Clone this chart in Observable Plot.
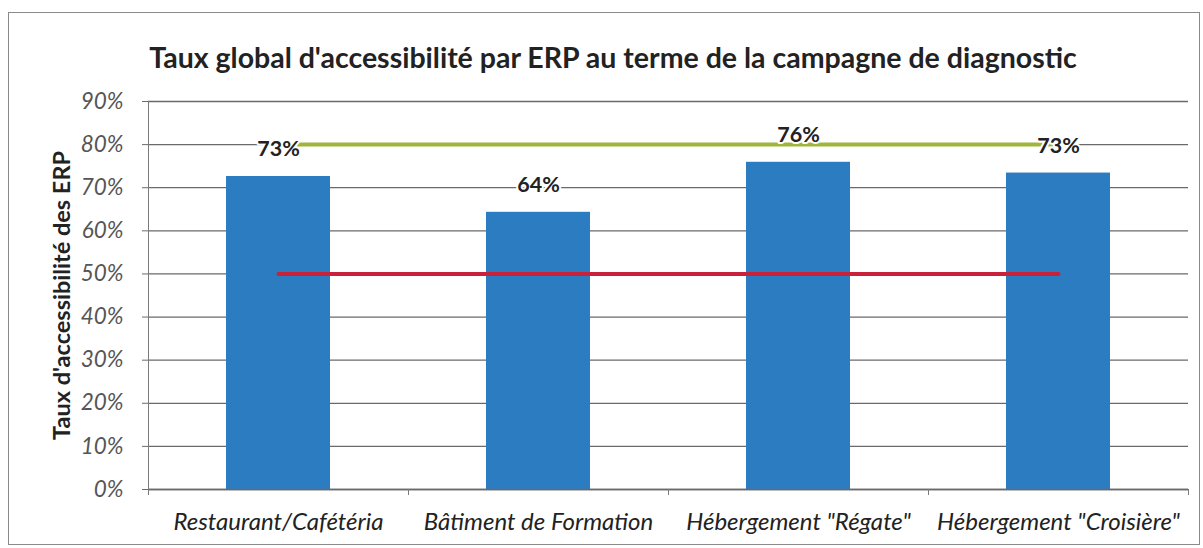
<!DOCTYPE html>
<html>
<head>
<meta charset="utf-8">
<script src="https://cdn.jsdelivr.net/npm/d3@7"></script>
<script src="https://cdn.jsdelivr.net/npm/@observablehq/plot@0.6"></script>
<style>
  body { margin: 0; background: #fff; width: 1203px; height: 548px; overflow: hidden; position: relative; font-family: Lato, "Open Sans", sans-serif; }
  #frame { position: absolute; left: 8px; top: 12px; width: 1190px; height: 531px; border: 1px solid #8a8a8a; }
  #title { position: absolute; left: 0; width: 1226px; top: 40px; line-height: 34px; text-align: center; font-weight: bold; font-size: 28.5px; color: #222; }
  #chart { position: absolute; left: 0; top: 0; }
</style>
</head>
<body>
<div id="frame"></div>
<div id="title">Taux global d'accessibilité par ERP au terme de la campagne de diagnostic</div>
<div id="chart"></div>
<script>
const categories = ["Restaurant/Cafétéria", "Bâtiment de Formation", "Hébergement \"Régate\"", "Hébergement \"Croisière\""];
const values = [72.6, 64.3, 75.9, 73.4];
const targetHigh = 80;
const targetLow = 50;
const yTicks = [0, 10, 20, 30, 40, 50, 60, 70, 80, 90];
const yLabel = "Taux d'accessibilité des ERP";

const W = 1203, H = 548, mL = 148, mR = 15, mT = 101, mB = 59;
const step = (W - mL - mR) / categories.length;

const data = categories.map((c, i) => ({c, v: values[i]}));
const first = categories[0], last = categories[categories.length - 1];
const yMax = yTicks[yTicks.length - 1];

const plot = Plot.plot({
  width: W, height: H,
  marginLeft: mL, marginRight: mR, marginTop: mT, marginBottom: mB,
  style: {fontFamily: "Lato, 'Open Sans', sans-serif", background: "transparent", overflow: "visible"},
  x: {domain: categories, paddingInner: 0.6, paddingOuter: 0.3},
  y: {domain: [0, yMax]},
  marks: [
    Plot.gridY(yTicks, {stroke: "#6a6a6a", strokeOpacity: 1, strokeWidth: 1.3}),
    Plot.barY(data, {x: "c", y: "v", fill: "#2c7cc1"}),
    Plot.ruleY([0], {stroke: "#6a6a6a", strokeWidth: 1.3}),
    Plot.ruleX([first], {x: d => d, dx: -step / 2, y1: 0, y2: yMax, stroke: "#7a7a7a"}),
    Plot.axisY(yTicks, {tickSize: 6, tickPadding: 19, tickFormat: d => d + "%", fontSize: 22.5, fontStyle: "italic", fill: "#555", stroke: "#6a6a6a", label: null}),
    Plot.axisX({tickSize: 0, tickPadding: 23, fontSize: 24, fontStyle: "italic", fill: "#222", label: null}),
    Plot.ruleX(categories, {x: d => d, dx: -step / 2, y1: 0, y2: 0, insetBottom: -6, stroke: "#7a7a7a"}),
    Plot.ruleX([last], {x: d => d, dx: step / 2, y1: 0, y2: 0, insetBottom: -6, stroke: "#7a7a7a"}),
    Plot.lineY([{c: first, v: targetLow}, {c: last, v: targetLow}], {x: "c", y: "v", stroke: "#c8213b", strokeWidth: 4}),
    Plot.lineY([{c: first, v: targetHigh}, {c: last, v: targetHigh}], {x: "c", y: "v", stroke: "#9db63b", strokeWidth: 4}),
    Plot.text(data, {x: "c", y: "v", text: d => Math.round(d.v) + "%", dy: -27, fontSize: 21.5, fontWeight: "bold", fill: "#222", stroke: "white", strokeWidth: 4}),
    Plot.text([yLabel], {frameAnchor: "left", textAnchor: "middle", rotate: -90, dx: -86, fontSize: 23.5, fontWeight: "bold", fill: "#222"})
  ]
});
document.getElementById("chart").appendChild(plot);
</script>
</body>
</html>
